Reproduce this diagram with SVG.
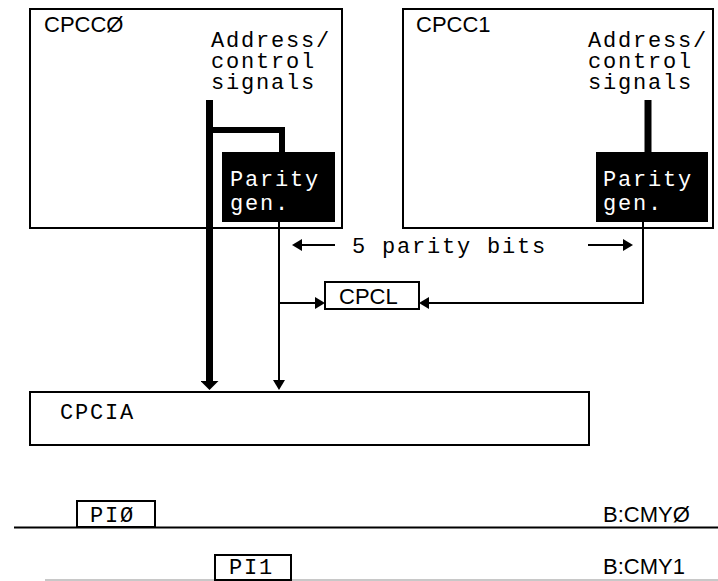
<svg xmlns="http://www.w3.org/2000/svg" width="718" height="581" viewBox="0 0 718 581">
<style>
.box{fill:#fff;stroke:#000;stroke-width:2}
.blk{fill:#000;stroke:#000;stroke-width:2}
.mono{font-family:"Liberation Mono","DejaVu Sans Mono",monospace;font-size:22px;letter-spacing:1.8px;fill:#000}
.sans{font-family:"Liberation Sans",Arial,sans-serif;font-size:22px;fill:#000}
.wht{fill:#fff}
.thick{fill:none;stroke:#000;stroke-width:7}
.thick6{fill:none;stroke:#000;stroke-width:6}
.thin{fill:none;stroke:#000;stroke-width:2}
.bus{fill:none;stroke:#000;stroke-width:2}
.bus2{fill:none;stroke:#c8c8c8;stroke-width:2}
</style>
<defs>
<marker id="ah" markerUnits="userSpaceOnUse" markerWidth="10" markerHeight="12" refX="0" refY="6" orient="auto" viewBox="0 0 10 12">
<path d="M0,0 L10,6 L0,12 z" fill="#000"/>
</marker>
<marker id="ahT" markerUnits="userSpaceOnUse" markerWidth="9" markerHeight="18" refX="0" refY="9" orient="auto" viewBox="0 0 9 18">
<path d="M0,0 L9,9 L0,18 z" fill="#000"/>
</marker>
</defs>
<rect width="718" height="581" fill="#fff"/>

<g id="cpcc0">
<rect class="box" x="30" y="9" width="312" height="219"/>
<text class="sans" x="44" y="32">CPCCØ</text>
<text class="mono" x="211" y="47">Address/</text>
<text class="mono" x="211" y="68">control</text>
<text class="mono" x="211" y="89">signals</text>
</g>
<g id="parity0">
<rect class="blk" x="223" y="153" width="111" height="68"/>
<text class="mono wht" x="230" y="186">Parity</text>
<text class="mono wht" x="230" y="210">gen.</text>
</g>

<g id="cpcc1">
<rect class="box" x="403" y="9" width="310" height="219"/>
<text class="sans" x="416" y="32">CPCC1</text>
<text class="mono" x="588" y="47">Address/</text>
<text class="mono" x="588" y="68">control</text>
<text class="mono" x="588" y="89">signals</text>
</g>
<g id="parity1">
<rect class="blk" x="597" y="153" width="110" height="68"/>
<text class="mono wht" x="603" y="186">Parity</text>
<text class="mono wht" x="603" y="210">gen.</text>
</g>

<g id="cpcl">
<rect class="box" x="325" y="282" width="94" height="27"/>
<text class="sans" x="339" y="304">CPCL</text>
</g>

<g id="cpcia">
<rect class="box" x="30" y="392" width="559" height="53"/>
<text class="mono" x="60" y="419">CPCIA</text>
</g>

<g id="bus0">
<path class="bus" d="M14,527.5 H718"/>
<rect class="box" x="77" y="501" width="78" height="26"/>
<text class="mono" x="90" y="522">PIØ</text>
<text class="sans" x="603" y="522">B:CMYØ</text>
</g>

<g id="bus1">
<path class="bus2" d="M45,580 H718"/>
<rect class="box" x="215" y="555" width="76" height="25"/>
<text class="mono" x="229" y="574">PI1</text>
<text class="sans" x="603" y="574">B:CMY1</text>
</g>

<g id="label-parity-bits">
<text class="mono" x="352" y="253">5 parity bits</text>
</g>

<g id="connectors">
<path class="thick" d="M209.5,100 V381" marker-end="url(#ahT)"/>
<path class="thick6" d="M209.5,130 H282 V153"/>
<path class="thick" d="M648,100 V153"/>
<path class="thin" d="M279,221 V380" marker-end="url(#ah)"/>
<path class="thin" d="M279,303 H315" marker-end="url(#ah)"/>
<path class="thin" d="M643,221 V303 H429" marker-end="url(#ah)"/>
<path class="thin" d="M335,245 H302" marker-end="url(#ah)"/>
<path class="thin" d="M588,245 H623" marker-end="url(#ah)"/>
</g>
</svg>
